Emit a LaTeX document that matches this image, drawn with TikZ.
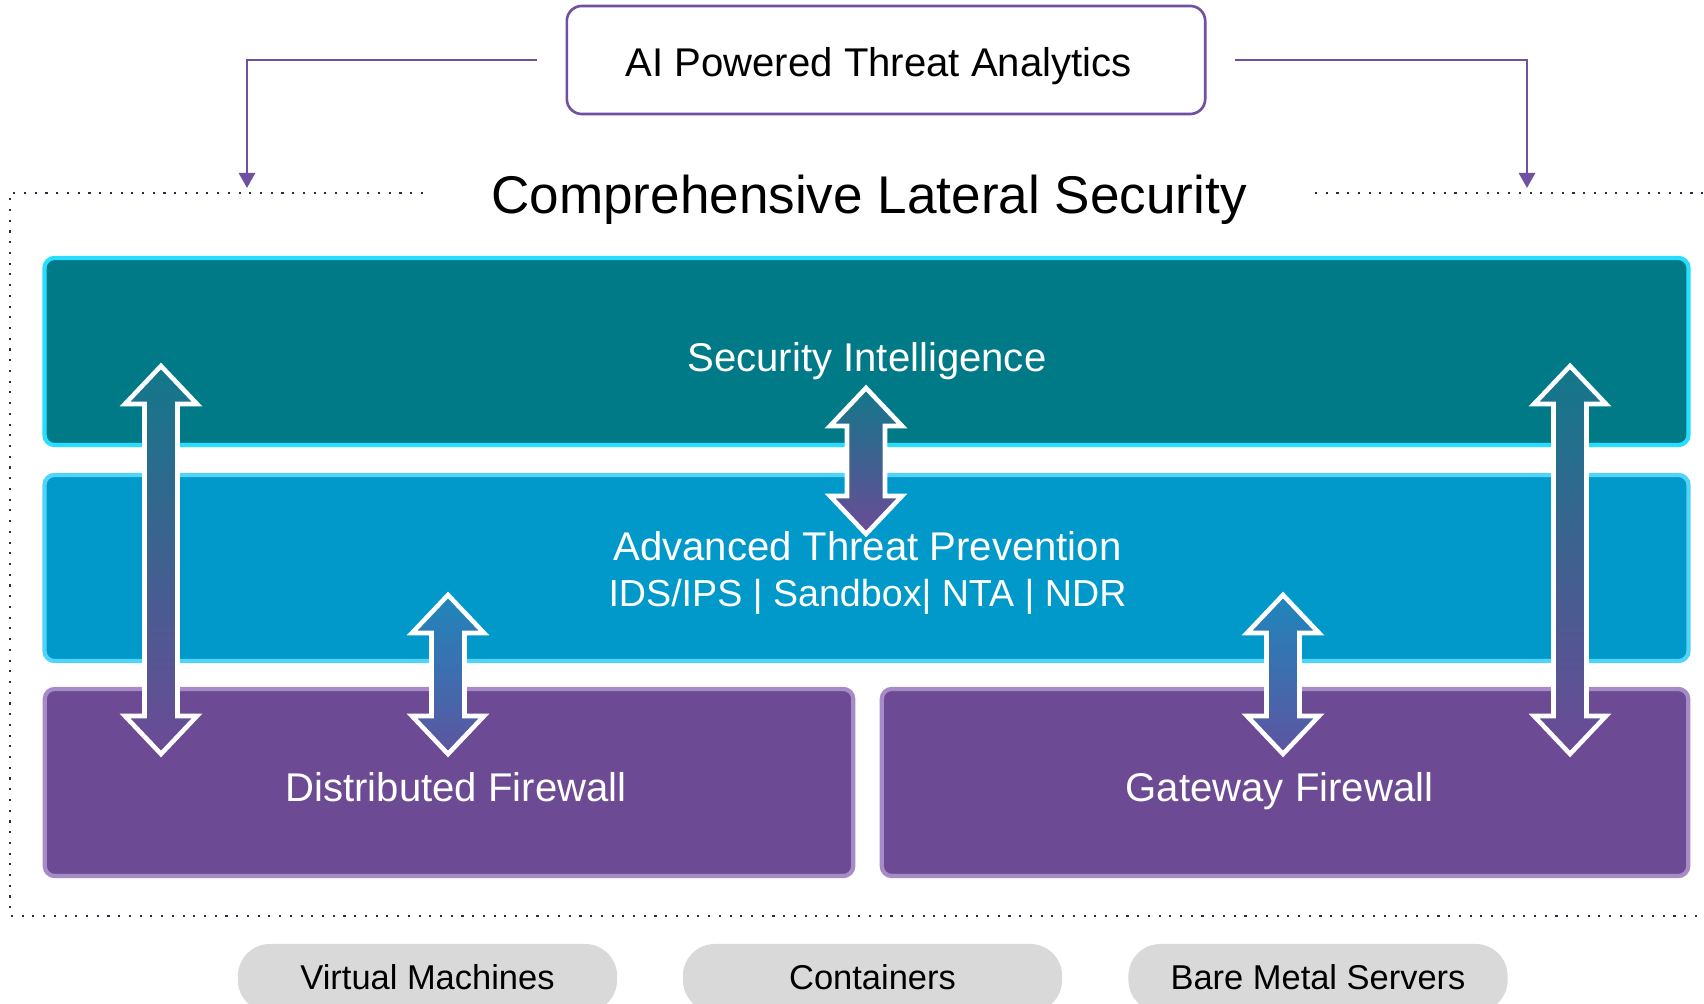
\documentclass[tikz,border=0pt]{standalone}
\usepackage{fontspec}
\setmainfont{Liberation Sans}
\usetikzlibrary{arrows.meta}
\definecolor{siFill}{RGB}{0,122,135}
\definecolor{siLine}{RGB}{40,222,255}
\definecolor{atpFill}{RGB}{0,153,201}
\definecolor{atpLine}{RGB}{80,212,250}
\definecolor{fwFill}{RGB}{108,75,148}
\definecolor{fwLine}{RGB}{166,139,198}
\definecolor{aiLine}{RGB}{112,80,160}
\definecolor{pillFill}{RGB}{217,217,217}
\definecolor{dotCol}{RGB}{45,45,70}
\definecolor{arrTop}{RGB}{18,120,138}
\definecolor{arrBot}{RGB}{108,74,150}
\definecolor{arrTopB}{RGB}{30,135,188}
\definecolor{arrBotB}{RGB}{94,84,160}
\newcommand\DArrow[5][]{%
  \shadedraw[arrsty,#1] (#2,#3) -- ({#2+36},{#3+38}) -- ({#2+#5},{#3+38}) -- ({#2+#5},{#4-38})
   -- ({#2+36},{#4-38}) -- (#2,#4) -- ({#2-36},{#4-38}) -- ({#2-#5},{#4-38})
   -- ({#2-#5},{#3+38}) -- ({#2-36},{#3+38}) -- cycle;}
\tikzset{
  layer/.style={draw, line width=1.2pt, rounded corners=0.1cm, inner sep=0pt},
  wtext/.style={text=white, anchor=base, inner sep=0pt, font=\fontsize{11.4}{13.6}\selectfont},
  btext/.style={anchor=base, inner sep=0pt, font=\fontsize{11.4}{13.6}\selectfont},
  pill/.style={fill=pillFill, rounded corners=0.32cm, minimum width=3.79cm, minimum height=0.68cm, inner sep=0pt},
  ptext/.style={anchor=base, inner sep=0pt, font=\fontsize{9.8}{12}\selectfont},
  conn/.style={draw=aiLine, line width=0.75pt, -{Triangle[length=4.3pt,width=4.6pt]}},
  dotline/.style={draw=dotCol, line width=0.6pt, dash pattern=on 0.6pt off 2.45pt},
  arrsty/.style={draw=white, line width=1.3pt, line join=miter, top color=arrTop, bottom color=arrBot},
}
\begin{document}
\begin{tikzpicture}[x=0.01cm, y=-0.01cm]
\useasboundingbox[fill=white] (0,0) rectangle (1704,1004);
% top box
\node[draw=aiLine, line width=0.75pt, rounded corners=0.15cm, minimum width=6.38cm, minimum height=1.08cm, inner sep=0pt] (ai) at (886,60) {};
\node[btext] (aiT) at (878.6,77) {AI Powered Threat Analytics};
\coordinate (lend) at (247,188);
\coordinate (rend) at (1527,188);
\draw[conn] ([xshift=-0.28cm]ai.west) -| (lend);
\draw[conn] ([xshift=0.28cm]ai.east) -| (rend);
% dotted frame
\draw[dotline] (423,193) -- (10,193) -- (10,916) -- (1704,916);
\draw[dotline] (1315,193) -- (1704,193);
\node[anchor=base, inner sep=0pt, font=\fontsize{15.1}{18}\selectfont] (title) at (869,214) {Comprehensive Lateral Security};
% layers
\node[layer, draw=siLine, fill=siFill, minimum width=16.43cm, minimum height=1.87cm] (si) at (866.5,351.5) {};
\node[layer, draw=atpLine, fill=atpFill, minimum width=16.43cm, minimum height=1.86cm] (atp) at (866.5,568) {};
\node[layer, draw=fwLine, fill=fwFill, minimum width=8.08cm, minimum height=1.87cm] (dfw) at (449,782.5) {};
\node[layer, draw=fwLine, fill=fwFill, minimum width=8.06cm, minimum height=1.87cm] (gfw) at (1285,782.5) {};
\node[wtext] (siT) at (867,372) {Security Intelligence};
\node[wtext] (atpT) at (867.5,561) {Advanced Threat Prevention};
\node[wtext, font=\fontsize{10.7}{12.8}\selectfont] (atpS) at (867.5,606.5) {IDS/IPS | Sandbox| NTA | NDR};
\node[wtext] (dfwT) at (456,801) {Distributed Firewall};
\node[wtext] (gfwT) at (1279.5,801) {Gateway Firewall};
% arrows
\DArrow{161}{366}{754}{16.5}
\DArrow{866}{388}{534}{19}
\DArrow[top color=arrTopB, bottom color=arrBotB]{448}{595}{754}{16.5}
\DArrow[top color=arrTopB, bottom color=arrBotB]{1283}{595}{754}{16.5}
\DArrow{1570}{366}{754}{16.5}
% pills
\node[pill] (vm) at (427.5,978) {};
\node[pill] (ct) at (872.5,978) {};
\node[pill] (bm) at (1318,978) {};
\node[ptext] (vmT) at (vm.center |- 0,989) {Virtual Machines};
\node[ptext] (ctT) at (ct.center |- 0,989) {Containers};
\node[ptext] (bmT) at (bm.center |- 0,989) {Bare Metal Servers};
\end{tikzpicture}
\end{document}
